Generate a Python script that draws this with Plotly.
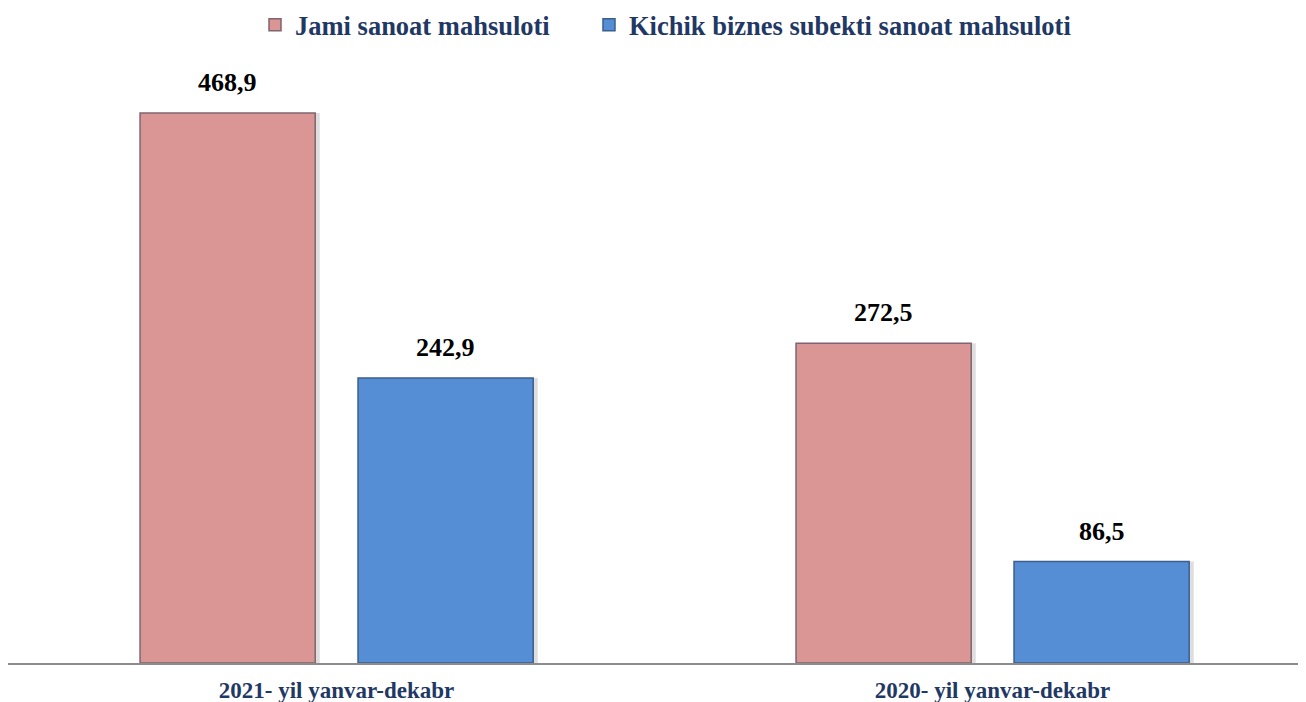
import plotly.graph_objects as go

categories = ["2021- yil yanvar-dekabr", "2020- yil yanvar-dekabr"]
series_names = ["Jami sanoat mahsuloti", "Kichik biznes subekti sanoat mahsuloti"]
jami = [468.9, 272.5]
kichik = [242.9, 86.5]

FONT = "Liberation Serif"
NAVY = "#1F3864"

bar_w = 0.267
offsets = [-0.2995, 0.0328]
fills = ["#D99694", "#558ED5"]
edges = ["#7F6470", "#3B5E8C"]
legend_ids = ["legend", "legend2"]
legend_x = [0.1903, 0.4476]

fig = go.Figure()
# soft shadows behind bars
for vals, off in zip([jami, kichik], offsets):
    fig.add_trace(go.Bar(
        x=list(range(len(categories))), y=vals, width=bar_w + 0.004, offset=off + 0.003,
        marker=dict(color="rgba(0,0,0,0.13)", line=dict(width=0)),
        showlegend=False, hoverinfo="skip",
    ))
for name, vals, off, fc, ec, lg in zip(series_names, [jami, kichik], offsets, fills, edges, legend_ids):
    fig.add_trace(go.Bar(
        x=list(range(len(categories))), y=vals, name=name,
        width=bar_w, offset=off, legend=lg,
        marker=dict(color=fc, line=dict(color=ec, width=1.5)),
    ))
    for i, v in enumerate(vals):
        fig.add_annotation(
            x=i + off + bar_w / 2, y=v, text=f"<b>{v:.1f}</b>".replace(".", ","),
            showarrow=False, yanchor="bottom", yshift=14,
            font=dict(family=FONT, size=26, color="black"),
        )

leg_common = dict(orientation="h", xanchor="left", yref="container", y=0.9755,
                  yanchor="middle", itemwidth=30,
                  font=dict(family=FONT, size=26.5, color=NAVY, weight="bold"))
fig.update_layout(
    width=1298, height=694,
    margin=dict(l=0, r=0, t=62, b=39, autoexpand=False),
    plot_bgcolor="white", paper_bgcolor="white",
    showlegend=True, barmode="overlay",
    legend=dict(x=legend_x[0], **leg_common),
    legend2=dict(x=legend_x[1], **leg_common),
    font=dict(family=FONT),
)
fig.update_xaxes(
    tickmode="array", tickvals=list(range(len(categories))), ticktext=categories,
    range=[-0.5008, 1.4779], showline=True, linecolor="#8C8C8C", linewidth=2,
    showgrid=False, zeroline=False, ticks="",
    tickfont=dict(family=FONT, size=23, color=NAVY, weight="bold"),
    ticklabelstandoff=5,
)
fig.update_yaxes(range=[0, 505.5], visible=False, showgrid=False, zeroline=False)

fig.write_html("out.html",
               post_script="document.documentElement.style.overflow='hidden';document.body.style.overflow='hidden';")
